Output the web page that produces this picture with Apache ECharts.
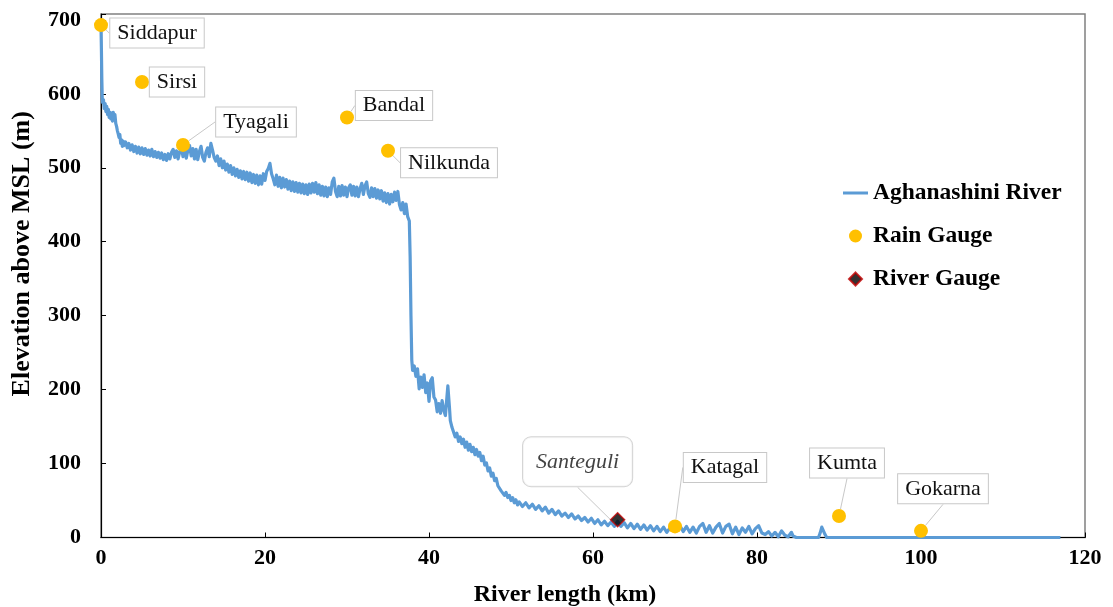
<!DOCTYPE html>
<html>
<head>
<meta charset="utf-8">
<script src="https://cdn.jsdelivr.net/npm/echarts@6/dist/echarts.min.js"></script>
<style>
  html, body { margin: 0; padding: 0; background: #fff; }
  #chart { width: 1113px; height: 607px; }
</style>
</head>
<body>
<div id="chart"></div>
<script>
// Longitudinal profile of the Aghanashini River (distance from source, km / elevation, m)
const riverKm = [
  0, 0.05, 0.1, 0.15, 0.2, 0.3, 0.4, 0.5, 0.6, 0.7, 0.8, 0.9, 1.0, 1.1, 1.2, 1.3, 1.4, 1.5, 1.6, 1.7, 1.8, 1.9,
  2.0, 2.1, 2.2, 2.3, 2.4, 2.5, 2.6, 2.7, 2.8,
  3.0, 3.2, 3.4, 3.6, 3.8, 4.0, 4.2, 4.4, 4.6, 4.8, 5.0, 5.2, 5.4, 5.6, 5.8, 6.0, 6.2, 6.4, 6.6, 6.8,
  7.0, 7.2, 7.4, 7.6, 7.8, 8.0, 8.2, 8.4, 8.6, 8.8, 9.0, 9.2, 9.4, 9.6, 9.8, 10.0,
  10.2, 10.4, 10.6, 10.8, 11.0, 11.2, 11.4, 11.6, 11.8, 12.0, 12.2, 12.4, 12.6, 12.8, 13.0, 13.2, 13.4, 13.6, 13.8, 14.0,
  14.2, 14.4, 14.6, 14.8, 15.0, 15.2, 15.4, 15.6, 15.8, 16.0, 16.2, 16.4, 16.6, 16.8, 17.0, 17.2, 17.4, 17.6, 17.8, 18.0,
  18.2, 18.4, 18.6, 18.8, 19.0, 19.2, 19.4, 19.6, 19.8, 20.0, 20.2, 20.4, 20.6, 20.8, 21.0, 21.2, 21.4, 21.6, 21.8, 22.0,
  22.2, 22.4, 22.6, 22.8, 23.0, 23.2, 23.4, 23.6, 23.8, 24.0, 24.2, 24.4, 24.6, 24.8, 25.0, 25.2, 25.4, 25.6, 25.8, 26.0,
  26.2, 26.4, 26.6, 26.8, 27.0, 27.2, 27.4, 27.6, 27.8, 28.0, 28.2, 28.4, 28.6, 28.8, 29.0, 29.2, 29.4, 29.6, 29.8, 30.0,
  30.2, 30.4, 30.6, 30.8, 31.0, 31.2, 31.4, 31.6, 31.8, 32.0, 32.2, 32.4, 32.6, 32.8, 33.0, 33.2, 33.4, 33.6, 33.8, 34.0,
  34.2, 34.4, 34.6, 34.8, 35.0, 35.2, 35.4, 35.6, 35.8, 36.0, 36.2, 36.4, 36.6, 36.8, 37.0, 37.2, 37.4, 37.6, 37.7, 37.8, 37.9,
  38.0, 38.2, 38.4, 38.6, 38.8, 39.0, 39.2, 39.4, 39.6, 39.8, 40.0, 40.2, 40.4, 40.6, 40.8, 41.0, 41.2, 41.4, 41.6, 41.8,
  42.0, 42.2, 42.3, 42.5, 42.6, 42.8, 43.0, 43.2, 43.4, 43.6, 43.8, 44.0, 44.2, 44.4, 44.6, 44.8, 45.0, 45.2, 45.4, 45.6, 45.8,
  46.0, 46.2, 46.4, 46.6, 46.8, 47.0, 47.2, 47.4, 47.6, 47.8, 48.0, 48.2, 48.4, 48.6, 48.8, 49.0, 49.2, 49.4, 49.6, 49.8,
  50.0, 50.2, 50.4, 50.6, 50.8, 51.0, 51.4, 51.8, 52.2, 52.6, 53.0, 53.4, 53.8, 54.2, 54.6, 55.0, 55.4, 55.8, 56.2, 56.6,
  57.0, 57.4, 57.8, 58.2, 58.6, 59.0, 59.4, 59.8, 60.2, 60.6, 61.0, 61.4, 61.8, 62.2, 62.6, 63.0, 63.4, 63.8, 64.2, 64.6,
  65.0, 65.4, 65.8, 66.2, 66.6, 67.0, 67.4, 67.8, 68.2, 68.6, 69.0, 69.4, 69.8, 70.2, 70.6, 71.0, 71.4, 71.8, 72.2, 72.6,
  73.0, 73.4, 73.8, 74.2, 74.6, 75.0, 75.4, 75.8, 76.2, 76.6, 77.0, 77.4, 77.8, 78.2, 78.6, 79.0, 79.4, 79.8, 80.2, 80.6,
  81.0, 81.4, 81.8, 82.2, 82.6, 83.0, 83.2, 83.4, 83.8, 84.2, 84.4, 84.8, 85.0, 87.5, 87.7, 87.9, 88.1, 88.3, 88.5, 117.0
];
const riverElev = [
  693, 660, 620, 595, 588, 592, 580, 587, 576, 583, 572, 579, 568, 575, 566, 574, 563, 575, 566, 572, 560, 556,
  550, 546, 541, 545, 533, 538, 529, 536, 530,
  535, 527, 533, 524, 531, 522, 529, 520, 528, 519, 527, 518, 526, 517, 524, 516, 525, 515, 522, 514,
  521, 513, 520, 511, 518, 510, 519, 512, 521, 525, 514, 523, 512, 522, 527, 515,
  527, 513, 524, 530, 516, 526, 512, 525, 511, 522, 529, 514, 509, 521, 527, 515, 533, 524, 514, 509,
  516, 503, 512, 500, 509, 497, 505, 494, 503, 491, 500, 489, 498, 487, 496, 485, 495, 484, 494, 482,
  493, 480, 491, 479, 490, 477, 489, 478, 492, 483, 495, 499, 506, 492, 485, 477, 490, 475, 487, 473,
  486, 474, 484, 471, 482, 469, 481, 468, 480, 467, 479, 466, 478, 465, 477, 464, 478, 466, 479, 467,
  480, 465, 477, 463, 475, 462, 474, 461, 473, 464, 481, 486, 468, 461, 475, 462, 476, 463, 474, 461,
  473, 477, 463, 475, 462, 474, 461, 472, 479, 464, 476, 481, 465, 460, 473, 461, 472, 459, 470, 458,
  469, 455, 466, 453, 465, 451, 464, 454, 467, 456, 468, 450, 443, 453, 438, 451, 434, 428, 380, 300, 240,
  226, 232, 218, 228, 201, 217, 203, 220, 196, 209, 184, 212, 216, 190, 186, 170, 181, 168, 185, 172,
  165, 192, 205, 175, 158, 149, 147, 136, 141, 130, 136, 127, 133, 122, 129, 118, 126, 116, 122, 112, 119,
  110, 115, 104, 110, 98, 101, 90, 94, 83, 87, 77, 80, 70, 72, 63, 65, 57, 61, 54, 57,
  50, 54, 47, 51, 44, 48, 42, 47, 40, 45, 38, 43, 36, 41, 33, 38, 31, 36, 29, 33,
  27, 32, 25, 29, 23, 27, 21, 26, 19, 24, 17, 22, 16, 21, 15, 22, 15, 20, 13, 19,
  12, 18, 11, 17, 10, 16, 9, 15, 8, 14, 7, 13, 17, 10, 16, 8, 15, 7, 14, 6,
  15, 19, 7, 16, 6, 14, 19, 6, 15, 18, 5, 14, 4, 13, 7, 15, 5, 12, 16, 6,
  4, 8, 2, 7, 1, 9, 11, 3, 1, 7, 2, 0, 0, 0, 6, 14, 12, 4, 0, 0
];

// Rain gauge stations
const rainGaugeNames = ['Siddapur', 'Sirsi', 'Tyagali', 'Bandal', 'Nilkunda', 'Katagal', 'Kumta', 'Gokarna'];
const rainGaugeKm = [0, 5, 10, 30, 35, 70, 90, 100];
const rainGaugeElev = [693, 616, 531, 568, 523, 15, 29, 9];

// River gauge station
const riverGaugeNames = ['Santeguli'];
const riverGaugeKm = [63];
const riverGaugeElev = [24];

// Axis ticks
const xTicks = { min: 0, max: 120, step: 20 };
const yTicks = { min: 0, max: 700, step: 100 };

// Callout offsets (label centre relative to the station symbol, px)
const rainLabelShift = [[56, 8], [35, 0], [73, -23], [47, -12], [61, 12], [50, -59], [8, -53], [22, -42]];
const riverLabelShift = [[-40, -58]];

const serif = '"Liberation Serif", "Times New Roman", serif';
const blue = '#5b9bd5';
const gold = '#ffc000';

const riverData = riverKm.map((k, i) => [k, riverElev[i]]);
const rainData = rainGaugeKm.map((k, i) => ({ name: rainGaugeNames[i], value: [k, rainGaugeElev[i]] }));
const gaugeData = riverGaugeKm.map((k, i) => ({ name: riverGaugeNames[i], value: [k, riverGaugeElev[i]] }));

const calloutLabel = {
  show: true,
  position: 'inside',
  formatter: '{b}',
  fontFamily: serif,
  fontSize: 22,
  color: '#111',
  backgroundColor: '#fff',
  borderColor: '#c8c8c8',
  borderWidth: 1,
  padding: [4, 7, 3, 7]
};

const chart = echarts.init(document.getElementById('chart'), null, { renderer: 'canvas' });
chart.setOption({
  backgroundColor: '#fff',
  animation: false,
  grid: {
    left: 101, right: 28, top: 14, bottom: 69.5,
    outerBoundsMode: 'none',
    containLabel: false,
    show: true, borderColor: '#808080', borderWidth: 1.5, backgroundColor: 'transparent'
  },
  legend: {
    orient: 'vertical',
    left: 843, top: 181,
    padding: 0,
    itemWidth: 25, itemHeight: 13, itemGap: 19,
    symbolKeepAspect: true,
    textStyle: { fontFamily: serif, fontSize: 23.5, fontWeight: 'bold', color: '#000' },
    data: [
      { name: 'Aghanashini River', icon: 'path://M0,0h25v3h-25z', itemStyle: { color: blue } },
      { name: 'Rain Gauge', icon: 'circle' },
      { name: 'River Gauge', icon: 'path://M6,0L12,6L6,12L0,6Z' }
    ]
  },
  xAxis: {
    type: 'value',
    min: xTicks.min, max: xTicks.max, interval: xTicks.step,
    name: 'River length (km)',
    nameLocation: 'middle',
    nameGap: 45,
    nameTextStyle: { fontFamily: serif, fontSize: 24, fontWeight: 'bold', color: '#000', padding: [0, 56, 0, 0] },
    axisLine: { lineStyle: { color: '#000', width: 1.2 } },
    axisTick: { inside: true, length: 5, lineStyle: { color: '#000' } },
    axisLabel: { fontFamily: serif, fontSize: 22, fontWeight: 'bold', color: '#000', margin: 10 },
    splitLine: { show: false }
  },
  yAxis: {
    type: 'value',
    min: yTicks.min, max: 708, interval: yTicks.step,
    name: 'Elevation above MSL (m)',
    nameLocation: 'middle',
    nameGap: 66,
    nameRotate: 90,
    nameTextStyle: { fontFamily: serif, fontSize: 26, fontWeight: 'bold', color: '#000', padding: [0, 0, 0, 44] },
    axisLine: { show: true, lineStyle: { color: '#000', width: 1.2 } },
    axisTick: { inside: true, length: 5, lineStyle: { color: '#000' } },
    axisLabel: {
      fontFamily: serif, fontSize: 22, fontWeight: 'bold', color: '#000', margin: 20,
      formatter: v => (v % yTicks.step === 0 && v <= yTicks.max ? String(v) : '')
    },
    splitLine: { show: false }
  },
  series: [
    {
      name: 'Aghanashini River',
      type: 'line',
      data: riverData,
      symbol: 'none',
      showSymbol: false,
      lineStyle: { color: blue, width: 3.2, join: 'round' },
      itemStyle: { color: blue },
      z: 2
    },
    {
      name: 'Rain Gauge',
      type: 'scatter',
      data: rainData,
      symbol: 'circle',
      symbolSize: 14,
      itemStyle: { color: gold, opacity: 1 },
      label: calloutLabel,
      labelLine: { show: true, lineStyle: { color: '#c8c8c8', width: 1 } },
      labelLayout: p => ({ dx: rainLabelShift[p.dataIndex][0], dy: rainLabelShift[p.dataIndex][1] }),
      z: 4
    },
    {
      name: 'River Gauge',
      type: 'scatter',
      data: gaugeData,
      symbol: 'diamond',
      symbolSize: 14,
      itemStyle: { color: '#000', borderColor: '#c00000', borderWidth: 1.5 },
      label: Object.assign({}, calloutLabel, {
        fontStyle: 'italic',
        borderRadius: 8,
        padding: [14, 13, 13, 13]
      }),
      labelLine: { show: true, lineStyle: { color: '#c8c8c8', width: 1 } },
      labelLayout: p => ({ dx: riverLabelShift[p.dataIndex][0], dy: riverLabelShift[p.dataIndex][1] }),
      z: 5
    }
  ]
});
</script>
</body>
</html>
